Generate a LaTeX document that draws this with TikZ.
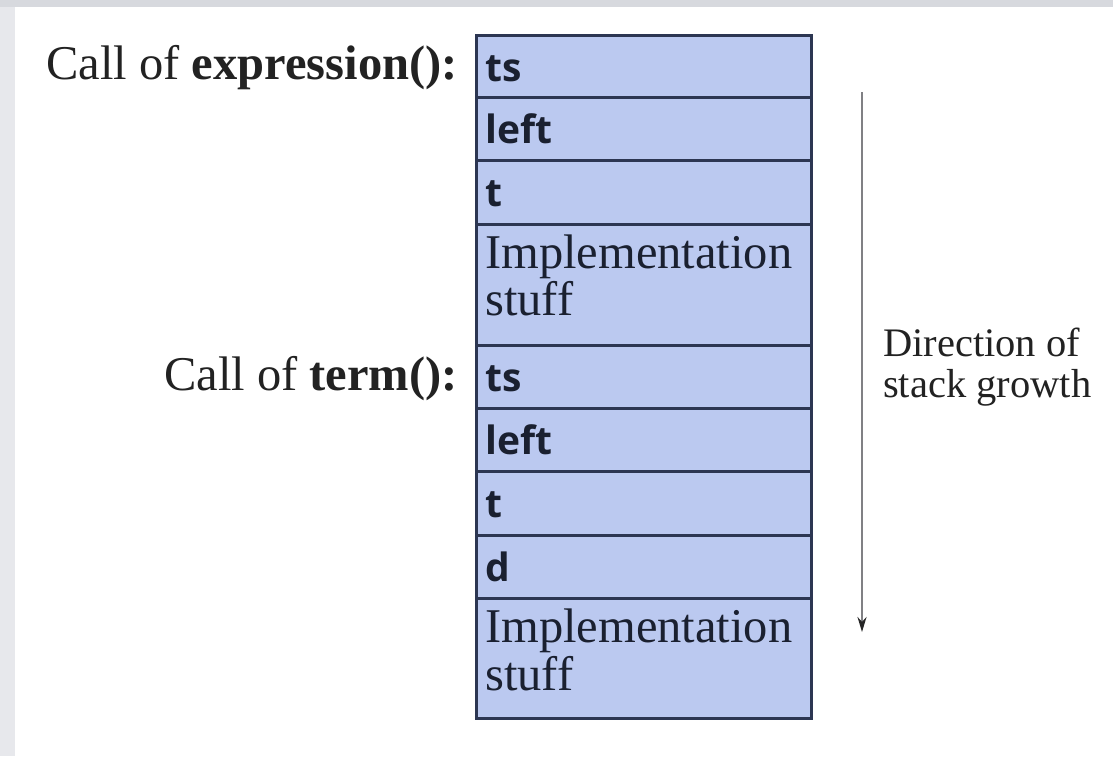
\documentclass[tikz,border=0pt]{standalone}
\usepackage{fontspec}
\setmainfont{Liberation Serif}
\newfontfamily\codesans{Open Sans}
\usetikzlibrary{arrows.meta}
\definecolor{cellfill}{RGB}{187,201,240}
\definecolor{celledge}{RGB}{44,54,82}
\definecolor{celltextcol}{RGB}{26,32,48}
\definecolor{labelcol}{RGB}{34,34,34}
\definecolor{arrowcol}{RGB}{128,128,132}
\definecolor{frametop}{RGB}{215,217,222}
\definecolor{frameleft}{RGB}{231,232,236}
\begin{document}
\begin{tikzpicture}[x=1pt,y=-1pt,
  cell/.style={draw=celledge, fill=cellfill, line width=3pt, inner sep=0pt,
    minimum width=335pt, anchor=north west},
  codetext/.style={anchor=base west, inner sep=0pt, text=celltextcol,
    font=\codesans\bfseries\fontsize{39}{39}\selectfont},
  plaintext/.style={anchor=base west, inner sep=0pt, text=celltextcol,
    font=\fontsize{48.5}{48}\selectfont},
  calllabel/.style={anchor=base east, inner sep=0pt, text=labelcol,
    font=\fontsize{48.5}{48}\selectfont},
  growthtext/.style={anchor=base west, inner sep=0pt, text=labelcol,
    font=\fontsize{40.5}{41}\selectfont}]
  % page and its light grey frame strips
  \useasboundingbox (0,0) rectangle (1113,756);
  \fill[white] (0,0) rectangle (1113,756);
  \fill[frameleft] (0,0) rectangle (15,756);
  \fill[frametop] (0,0) rectangle (1113,7);

  % stack cells
  \node[cell, minimum height=62pt]  (r1) at (475,34)  {};
  \node[cell, minimum height=63pt]  (r2) at (475,96)  {};
  \node[cell, minimum height=64pt]  (r3) at (475,159) {};
  \node[cell, minimum height=121pt] (r4) at (475,223) {};
  \node[cell, minimum height=63pt]  (r5) at (475,344) {};
  \node[cell, minimum height=63pt]  (r6) at (475,407) {};
  \node[cell, minimum height=64pt]  (r7) at (475,470) {};
  \node[cell, minimum height=63pt]  (r8) at (475,534) {};
  \node[cell, minimum height=120pt] (r9) at (475,597) {};

  % cell contents
  \node[codetext] (c1) at (485,81)  {ts};
  \node[codetext] (c2) at (485,143) {left};
  \node[codetext] (c3) at (485,206) {t};
  \node[plaintext] (c4a) at (485,268) {Implementation};
  \node[plaintext] (c4b) at (485,315) {stuff};
  \node[codetext] (c5) at (485,391) {ts};
  \node[codetext] (c6) at (485,454) {left};
  \node[codetext] (c7) at (485,517) {t};
  \node[codetext] (c8) at (485,581) {d};
  \node[plaintext] (c9a) at (485,642) {Implementation};
  \node[plaintext] (c9b) at (485,690) {stuff};

  % call labels
  \node[calllabel] (l1) at (458,79)  {Call of \textbf{expression():}};
  \node[calllabel] (l2) at (458,390) {Call of \textbf{term():}};

  % growth direction arrow
  \coordinate (gtop) at (862,92);
  \coordinate (gbot) at (862,632);
  \draw[arrowcol, line width=2.2pt,
    -{Stealth[length=15pt, width=9pt, color=black!85]}] (gtop) -- (gbot);
  \node[growthtext] (g1) at (883,356) {Direction of};
  \node[growthtext] (g2) at (883,397) {stack growth};
\end{tikzpicture}
\end{document}
